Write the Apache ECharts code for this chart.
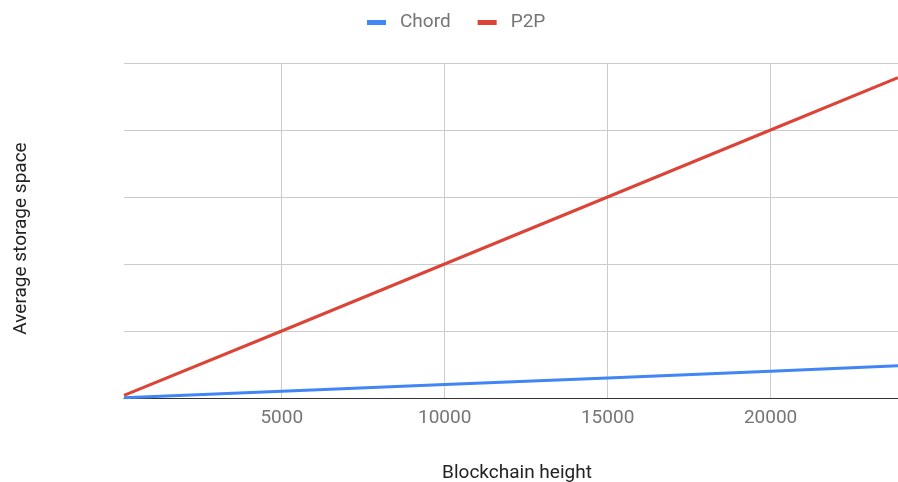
<!DOCTYPE html>
<html>
<head>
<meta charset="utf-8">
<script src="https://cdn.jsdelivr.net/npm/echarts@6/dist/echarts.min.js"></script>
<style>
  html, body { margin: 0; padding: 0; background: #fff; }
  #chart { width: 898px; height: 482px; }
</style>
</head>
<body>
<div id="chart"></div>
<script>
// values
var heights = [160, 5000, 10000, 15000, 20000, 23910];
var chordSpace = [10, 500, 1000, 1500, 2000, 2400];
var p2pSpace = [200, 5000, 10000, 15000, 20000, 23900];
var xTicks = [5000, 10000, 15000, 20000];

var toPairs = function (xs, ys) {
  return xs.map(function (x, i) { return [x, ys[i]]; });
};

var myCharts = echarts.init(document.getElementById('chart'));
var font = 'Roboto';
var options = {
  animation: false,
  color: ['#4285F4', '#DB4437'],
  textStyle: { fontFamily: font },
  legend: {
    top: 8,
    left: 362,
    itemWidth: 19,
    itemHeight: 5,
    itemGap: 27,
    icon: 'rect',
    textStyle: { fontFamily: font, fontSize: 19, color: '#757575', padding: [0, 0, 0, 9] },
    data: ['Chord', 'P2P']
  },
  grid: {
    left: 124,
    right: 0,
    top: 63,
    bottom: 84,
    outerBoundsMode: 'none',
    containLabel: false
  },
  xAxis: {
    type: 'value',
    min: 160,
    max: 23910,
    name: 'Blockchain height',
    nameLocation: 'middle',
    nameGap: 66,
    nameTextStyle: { fontFamily: font, fontSize: 19, color: '#222', padding: [0, 0, 0, 12] },
    axisLine: { show: true, onZero: false, lineStyle: { color: '#333', width: 1 } },
    axisTick: { show: false, customValues: xTicks },
    axisLabel: {
      customValues: xTicks,
      fontFamily: font,
      fontSize: 19,
      color: '#757575',
      margin: 11,
      formatter: function (v) { return String(v); }
    },
    splitLine: { show: true, lineStyle: { color: '#cccccc', width: 1 } }
  },
  yAxis: {
    type: 'value',
    min: 0,
    max: 25000,
    interval: 5000,
    name: 'Average storage space',
    nameLocation: 'middle',
    nameGap: 93,
    nameTextStyle: { fontFamily: font, fontSize: 19, color: '#222', padding: [0, 16, 0, 0] },
    axisLine: { show: false },
    axisTick: { show: false },
    axisLabel: { show: false },
    splitLine: { lineStyle: { color: '#cccccc', width: 1 } }
  },
  series: [
    {
      name: 'Chord',
      type: 'line',
      showSymbol: false,
      lineStyle: { width: 3 },
      data: toPairs(heights, chordSpace)
    },
    {
      name: 'P2P',
      type: 'line',
      showSymbol: false,
      lineStyle: { width: 3 },
      data: toPairs(heights, p2pSpace)
    }
  ]
};

myCharts.setOption(options);
</script>
</body>
</html>
